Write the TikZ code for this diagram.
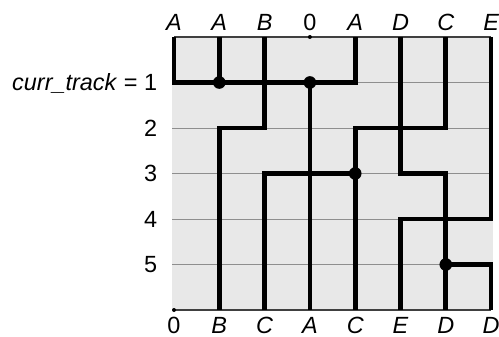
\documentclass[tikz,border=0pt]{standalone}
\usepackage{fontspec}
\setmainfont{Liberation Sans}
\usetikzlibrary{positioning}
\definecolor{chanfill}{HTML}{E8E8E8}
\definecolor{trackgray}{HTML}{8E8E8E}
\definecolor{edgegray}{HTML}{404040}
\tikzset{
  netwire/.style={line width=4pt,draw=black},
  trackline/.style={line width=0.8pt,draw=trackgray},
  chanedge/.style={line width=1.1pt,draw=edgegray},
  pinlabel/.style={font=\fontsize{20}{22}\selectfont\itshape,inner sep=0pt},
  tracklabel/.style={font=\fontsize{20}{22}\selectfont,inner sep=0pt,text depth=0pt},
  joint/.style={fill=black}
}

\begin{document}
\begin{tikzpicture}[x=1.359cm,y=-1.365cm]
\useasboundingbox (-3.841,-0.813) rectangle (7.174,6.593);
\foreach \c in {1,...,8}
  \foreach \r in {0,...,6}
    \coordinate (g\c-\r) at (\c-1,\r);
\fill[chanfill] (-0.04,0) rectangle (7.04,6);
\foreach \r in {1,...,5}
  \draw[trackline] (-0.04,\r) -- (7.02,\r);
\draw[chanedge] (g1-0) -- (g8-0);
\draw[chanedge] (g1-6) -- (g8-6);
\foreach \lab [count=\c] in {A,A,B,\upshape 0,A,D,C,E}
  \node[pinlabel,above=0.18cm of g\c-0] (top\c) {\lab};
\foreach \lab [count=\c] in {\upshape 0,B,C,A,C,E,D,D}
  \node[pinlabel,below=0.2cm of g\c-6] (bot\c) {\lab};
\node[tracklabel,left=0.5cm of g1-1] (track1) {\textit{curr\_track} = 1};
\foreach \r in {2,...,5}
  \node[tracklabel,left=0.5cm of g1-\r] (track\r) {\r};
\draw[netwire] (g1-0) |- (g5-1) -- (g5-0);
\draw[netwire] (g2-0) -- (g2-1);
\draw[netwire] (g3-0) |- (g2-2) -- (g2-6);
\draw[netwire] (g4-1) -- (g4-6);
\draw[netwire] (g7-0) |- (g5-2) -- (g5-6);
\draw[netwire] (g3-6) |- (g5-3);
\draw[netwire] (g6-0) |- (g7-3) -- (g7-6);
\draw[netwire] (g7-5) -| (g8-6);
\draw[netwire] (g8-0) |- (g6-4) -- (g6-6);
\foreach \p in {g2-1,g4-1,g5-3,g7-5}
  \fill[joint] (\p) circle (0.19cm);
\foreach \p in {g4-0,g1-6}
  \fill[joint] (\p) circle (0.06cm);
\end{tikzpicture}
\end{document}
